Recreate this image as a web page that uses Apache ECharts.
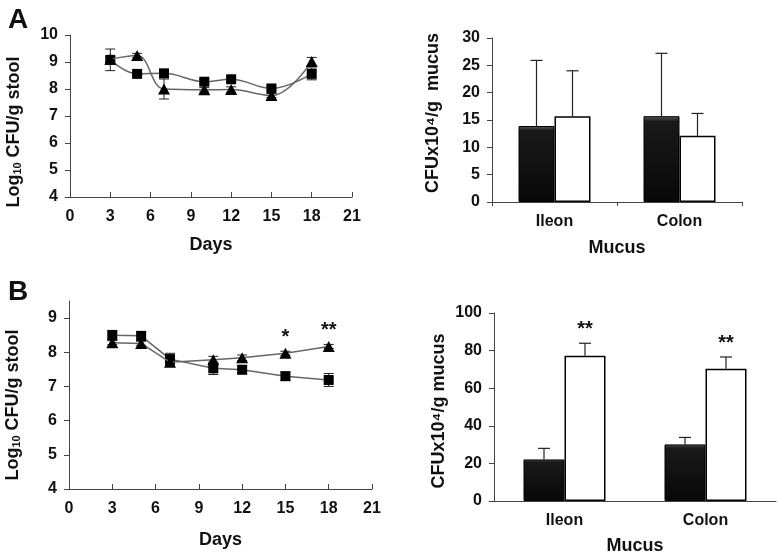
<!DOCTYPE html>
<html>
<head>
<meta charset="utf-8">
<script src="https://cdn.jsdelivr.net/npm/echarts@6/dist/echarts.min.js"></script>
<style>
  html, body { margin: 0; padding: 0; background: #fff; }
  #main { width: 778px; height: 556px; }
</style>
</head>
<body>
<div id="main"></div>
<script>
// 数据
var days = [3, 5, 7, 10, 12, 15, 18];

// A: 粪便计数
var aSquare = [9.08, 8.56, 8.58, 8.27, 8.36, 8.02, 8.56];
var aSquareErr = [0.40, 0.05, 0.10, 0.08, 0.08, 0.08, 0.22];
var aTriangle = [9.10, 9.24, 8.00, 7.97, 7.98, 7.76, 9.02];
var aTriangleErr = [0.08, 0.08, 0.37, 0.08, 0.10, 0.08, 0.15];

// B: 粪便计数
var bSquare = [8.50, 8.48, 7.80, 7.53, 7.49, 7.30, 7.19];
var bSquareErr = [0.14, 0.12, 0.17, 0.18, 0.12, 0.12, 0.19];
var bTriangle = [8.28, 8.26, 7.71, 7.78, 7.84, 7.97, 8.17];
var bTriangleErr = [0.06, 0.06, 0.08, 0.10, 0.08, 0.06, 0.06];
var bTriangleSig = ['', '', '', '', '', '*', '**'];
var bTicks = [4, 5, 6, 7, 8, 9];

// 黏液计数
var sites = ['Ileon', 'Colon'];
var aBlack = [13.9, 15.7];
var aBlackErr = [12.0, 11.5];
var aWhite = [15.7, 12.1];
var aWhiteErr = [8.3, 4.1];

var bBlack = [22.1, 30.1];
var bBlackErr = [5.9, 3.7];
var bWhite = [77.3, 70.3];
var bWhiteErr = [6.6, 6.3];
var bWhiteSig = ['**', '**'];

var font = 'Liberation Sans, Arial, sans-serif';
var axisColor = '#444';

var myChart = echarts.init(document.getElementById('main'));

function lineErr(xs, vals, errs, sig) {
    return xs.map(function (x, i) {
        return [x, vals[i] - errs[i], vals[i] + errs[i], sig ? sig[i] : ''];
    });
}

function barErr(vals, errs, sig) {
    return vals.map(function (v, i) {
        return [i, v, v + errs[i], sig ? sig[i] : ''];
    });
}

function lineErrSeries(axis, data) {
    return {
        type: 'custom',
        xAxisIndex: axis, yAxisIndex: axis,
        z: 1,
        encode: { x: 0, y: [1, 2] },
        data: data,
        renderItem: function (params, api) {
            var x = api.value(0);
            var lo = api.coord([x, api.value(1)]);
            var hi = api.coord([x, api.value(2)]);
            var s = { stroke: '#222', lineWidth: 1 };
            var children = [
                { type: 'line', shape: { x1: lo[0], y1: lo[1], x2: hi[0], y2: hi[1] }, style: s },
                { type: 'line', shape: { x1: lo[0] - 5, y1: lo[1], x2: lo[0] + 5, y2: lo[1] }, style: s },
                { type: 'line', shape: { x1: hi[0] - 5, y1: hi[1], x2: hi[0] + 5, y2: hi[1] }, style: s }
            ];
            var sg = api.value(3);
            if (sg) {
                children.push({
                    type: 'text', z2: 10,
                    style: { text: sg, x: hi[0], y: hi[1] - 4, align: 'center', verticalAlign: 'bottom',
                        font: 'bold 20px ' + font, fill: '#111' }
                });
            }
            return { type: 'group', children: children };
        }
    };
}

function barErrSeries(axis, data, offset) {
    return {
        type: 'custom',
        xAxisIndex: axis, yAxisIndex: axis,
        z: 5,
        encode: { x: 0, y: [1, 2] },
        data: data,
        renderItem: function (params, api) {
            var i = api.value(0);
            var lo = api.coord([i, api.value(1)]);
            var hi = api.coord([i, api.value(2)]);
            var x = lo[0] + offset;
            var s = { stroke: '#222', lineWidth: 1.2 };
            var children = [
                { type: 'line', shape: { x1: x, y1: lo[1], x2: x, y2: hi[1] }, style: s },
                { type: 'line', shape: { x1: x - 6, y1: hi[1], x2: x + 6, y2: hi[1] }, style: s }
            ];
            var sg = api.value(3);
            if (sg) {
                children.push({
                    type: 'text', z2: 10,
                    style: { text: sg, x: x, y: hi[1] - 4, align: 'center', verticalAlign: 'bottom',
                        font: 'bold 20px ' + font, fill: '#111' }
                });
            }
            return { type: 'group', children: children };
        }
    };
}

var blackFill = new echarts.graphic.LinearGradient(0, 0, 0, 1, [
    { offset: 0, color: '#5a5a5a' },
    { offset: 0.06, color: '#1a1a1a' },
    { offset: 1, color: '#080808' }
]);

var labelStyle = { color: '#111', fontFamily: font, fontWeight: 'bold', fontSize: 16 };
var nameStyle = { color: '#111', fontFamily: font, fontWeight: 'bold', fontSize: 18 };
var lineStyleAxis = { color: axisColor, width: 1 };

function logName(pad) {
    return {
        color: '#111', fontFamily: font, fontWeight: 'bold', fontSize: 18,
        padding: pad,
        rich: {
            a: { fontFamily: font, fontWeight: 'bold', fontSize: 18, color: '#111' },
            s: { fontFamily: font, fontWeight: 'bold', fontSize: 11, color: '#111', verticalAlign: 'bottom', padding: [7, 0, 0, 0] }
        }
    };
}

function valueX(grid, gap) {
    return {
        type: 'value', gridIndex: grid, min: 0, max: 21, interval: 3,
        name: 'Days', nameLocation: 'middle', nameGap: gap, nameTextStyle: nameStyle,
        axisLine: { lineStyle: lineStyleAxis },
        axisTick: { show: true, inside: true, length: 5, lineStyle: lineStyleAxis },
        axisLabel: Object.assign({ margin: 12 }, labelStyle),
        splitLine: { show: false }
    };
}

function catX(grid, ticks, gap) {
    return {
        type: 'category', gridIndex: grid, data: sites,
        name: 'Mucus', nameLocation: 'middle', nameGap: gap, nameTextStyle: nameStyle,
        axisLine: { lineStyle: lineStyleAxis },
        axisTick: { show: ticks, alignWithLabel: false, length: 4, lineStyle: lineStyleAxis },
        axisLabel: Object.assign({ margin: 12 }, labelStyle)
    };
}

option = {
    backgroundColor: '#fff',
    animation: false,
    graphic: [
        { type: 'text', left: 8, top: 6, style: { text: 'A', font: 'bold 28px ' + font, fill: '#111' } },
        { type: 'text', left: 8, top: 278, style: { text: 'B', font: 'bold 28px ' + font, fill: '#111' } }
    ],
    grid: [
        { left: 70, top: 35, width: 282, height: 162 },
        { left: 492, top: 38, width: 250, height: 164 },
        { left: 69, top: 301, width: 303, height: 188 },
        { left: 494, top: 313, width: 282, height: 189 }
    ],
    xAxis: [
        valueX(0, 39),
        catX(1, true, 37),
        valueX(2, 42),
        catX(3, false, 36)
    ],
    yAxis: [
        {
            type: 'value', gridIndex: 0, min: 4, max: 10, interval: 1,
            name: '{a|Log}{s|10}{a| CFU/g stool}', nameLocation: 'middle', nameGap: 47,
            nameTextStyle: logName([0, 32, 0, 0]),
            axisLine: { show: true, lineStyle: lineStyleAxis },
            axisTick: { show: true, length: 5, lineStyle: lineStyleAxis },
            axisLabel: Object.assign({ margin: 12 }, labelStyle),
            splitLine: { show: false }
        },
        {
            type: 'value', gridIndex: 1, min: 0, max: 30, interval: 5,
            name: 'CFUx10\u2074/g  mucus', nameLocation: 'middle', nameGap: 50,
            nameTextStyle: Object.assign({ padding: [0, 0, 0, 14] }, nameStyle),
            axisLine: { show: true, lineStyle: lineStyleAxis },
            axisTick: { show: true, length: 5, lineStyle: lineStyleAxis },
            axisLabel: Object.assign({ margin: 12 }, labelStyle),
            splitLine: { show: false }
        },
        {
            type: 'value', gridIndex: 2, min: 4, max: 9.5, interval: 1,
            name: '{a|Log}{s|10}{a| CFU/g stool}', nameLocation: 'middle', nameGap: 47,
            nameTextStyle: logName([0, 20, 0, 0]),
            axisLine: { show: true, lineStyle: lineStyleAxis },
            axisTick: { show: true, length: 5, lineStyle: lineStyleAxis, customValues: bTicks },
            axisLabel: Object.assign({ margin: 12, customValues: bTicks }, labelStyle),
            splitLine: { show: false }
        },
        {
            type: 'value', gridIndex: 3, min: 0, max: 100, interval: 20,
            name: 'CFUx10\u2074/g mucus', nameLocation: 'middle', nameGap: 46,
            nameTextStyle: Object.assign({ padding: [0, 8, 0, 0] }, nameStyle),
            axisLine: { show: true, lineStyle: lineStyleAxis },
            axisTick: { show: true, length: 5, lineStyle: lineStyleAxis },
            axisLabel: Object.assign({ margin: 12 }, labelStyle),
            splitLine: { show: false }
        }
    ],
    series: [
        // A 折线
        lineErrSeries(0, lineErr(days, aSquare, aSquareErr)),
        lineErrSeries(0, lineErr(days, aTriangle, aTriangleErr)),
        {
            type: 'line', xAxisIndex: 0, yAxisIndex: 0, z: 3, smooth: 0.4,
            data: days.map(function (d, i) { return [d, aSquare[i]]; }),
            symbol: 'rect', symbolSize: 10,
            itemStyle: { color: '#000' }, lineStyle: { color: '#666', width: 1.5 }
        },
        {
            type: 'line', xAxisIndex: 0, yAxisIndex: 0, z: 4, smooth: 0.4,
            data: days.map(function (d, i) { return [d, aTriangle[i]]; }),
            symbol: 'triangle', symbolSize: [12, 11],
            itemStyle: { color: '#000' }, lineStyle: { color: '#666', width: 1.5 }
        },
        // A 柱状
        {
            type: 'bar', xAxisIndex: 1, yAxisIndex: 1, z: 2, barWidth: 36, barGap: '0%',
            data: aBlack, itemStyle: { color: blackFill, borderColor: '#000', borderWidth: 1 }
        },
        {
            type: 'bar', xAxisIndex: 1, yAxisIndex: 1, z: 2, barWidth: 36, barGap: '0%',
            data: aWhite, itemStyle: { color: '#fff', borderColor: '#000', borderWidth: 1.5 }
        },
        barErrSeries(1, barErr(aBlack, aBlackErr), -18),
        barErrSeries(1, barErr(aWhite, aWhiteErr), 18),
        // B 折线
        lineErrSeries(2, lineErr(days, bSquare, bSquareErr)),
        lineErrSeries(2, lineErr(days, bTriangle, bTriangleErr, bTriangleSig)),
        {
            type: 'line', xAxisIndex: 2, yAxisIndex: 2, z: 3,
            data: days.map(function (d, i) { return [d, bSquare[i]]; }),
            symbol: 'rect', symbolSize: 10,
            itemStyle: { color: '#000' }, lineStyle: { color: '#666', width: 1.5 }
        },
        {
            type: 'line', xAxisIndex: 2, yAxisIndex: 2, z: 4,
            data: days.map(function (d, i) { return [d, bTriangle[i]]; }),
            symbol: 'triangle', symbolSize: [12, 11],
            itemStyle: { color: '#000' }, lineStyle: { color: '#666', width: 1.5 }
        },
        // B 柱状
        {
            type: 'bar', xAxisIndex: 3, yAxisIndex: 3, z: 2, barWidth: 41, barGap: '0%',
            data: bBlack, itemStyle: { color: blackFill, borderColor: '#000', borderWidth: 1 }
        },
        {
            type: 'bar', xAxisIndex: 3, yAxisIndex: 3, z: 2, barWidth: 41, barGap: '0%',
            data: bWhite, itemStyle: { color: '#fff', borderColor: '#000', borderWidth: 1.5 }
        },
        barErrSeries(3, barErr(bBlack, bBlackErr), -20.5),
        barErrSeries(3, barErr(bWhite, bWhiteErr, bWhiteSig), 20.5)
    ]
};

myChart.setOption(option);
</script>
</body>
</html>
